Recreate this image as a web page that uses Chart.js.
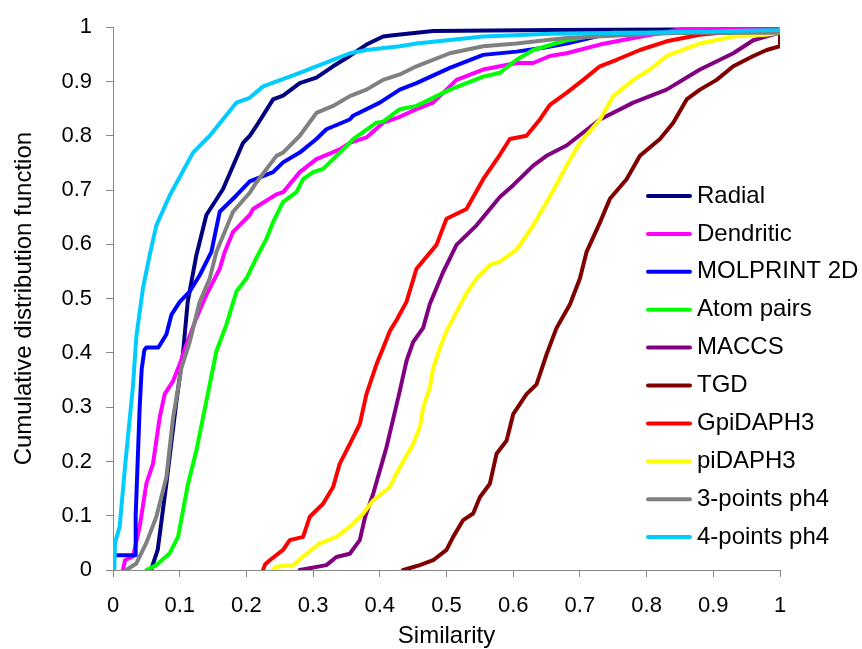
<!DOCTYPE html>
<html>
<head>
<meta charset="utf-8">
<script src="https://cdn.jsdelivr.net/npm/chart.js@4.4.0/dist/chart.umd.min.js"></script>
<style>
  html, body { margin: 0; padding: 0; background: #ffffff; }
  #wrap { width: 862px; height: 649px; }
</style>
</head>
<body>
<div id="wrap"><canvas id="c" width="862" height="649"></canvas></div>
<script>
// ---- Data (x = similarity, y = cumulative distribution) ----
const seriesNames = ["Radial", "Dendritic", "MOLPRINT 2D", "Atom pairs", "MACCS", "TGD", "GpiDAPH3", "piDAPH3", "3-points ph4", "4-points ph4"];
const seriesColors = ["#000080", "#FF00FF", "#0000FF", "#00FF00", "#800080", "#800000", "#FF0000", "#FFFF00", "#808080", "#00CCFF"];

const radial = [[0.057,0],[0.067,0.037],[0.08,0.159],[0.095,0.31],[0.105,0.40],[0.112,0.494],[0.125,0.58],[0.14,0.654],[0.165,0.702],[0.195,0.787],[0.205,0.80],[0.215,0.818],[0.24,0.867],[0.255,0.874],[0.28,0.897],[0.305,0.907],[0.33,0.928],[0.355,0.947],[0.38,0.968],[0.405,0.983],[0.42,0.985],[0.48,0.993],[0.655,0.995],[1,0.997]];
const dendritic = [[0.015,0],[0.018,0.018],[0.03,0.025],[0.04,0.08],[0.05,0.159],[0.06,0.196],[0.07,0.281],[0.0775,0.324],[0.09,0.348],[0.10,0.379],[0.11,0.415],[0.125,0.464],[0.14,0.507],[0.16,0.555],[0.1675,0.586],[0.18,0.623],[0.205,0.654],[0.21,0.665],[0.245,0.692],[0.255,0.696],[0.28,0.733],[0.305,0.757],[0.34,0.775],[0.355,0.787],[0.38,0.797],[0.405,0.824],[0.43,0.835],[0.455,0.849],[0.48,0.861],[0.515,0.903],[0.555,0.922],[0.605,0.934],[0.63,0.934],[0.655,0.947],[0.68,0.952],[0.73,0.968],[0.78,0.980],[0.86,0.998],[0.91,1.0],[1,1.0]];
const molprint = [[0,0.027],[0.033,0.027],[0.034,0.10],[0.037,0.20],[0.040,0.30],[0.043,0.37],[0.047,0.405],[0.05,0.41],[0.068,0.41],[0.08,0.434],[0.0875,0.47],[0.1,0.494],[0.115,0.513],[0.13,0.543],[0.1475,0.586],[0.16,0.66],[0.185,0.69],[0.205,0.716],[0.24,0.733],[0.255,0.751],[0.28,0.769],[0.305,0.794],[0.32,0.812],[0.355,0.830],[0.36,0.837],[0.40,0.861],[0.43,0.885],[0.455,0.897],[0.505,0.925],[0.555,0.949],[0.605,0.955],[0.645,0.962],[0.68,0.97],[0.75,0.99],[1,0.99]];
const atomPairs = [[0.05,0],[0.065,0.009],[0.085,0.031],[0.0975,0.061],[0.105,0.11],[0.1125,0.159],[0.125,0.22],[0.135,0.281],[0.145,0.342],[0.155,0.403],[0.17,0.452],[0.185,0.513],[0.20,0.537],[0.215,0.575],[0.23,0.61],[0.24,0.641],[0.255,0.678],[0.275,0.696],[0.285,0.72],[0.30,0.733],[0.315,0.739],[0.33,0.757],[0.355,0.787],[0.36,0.794],[0.395,0.824],[0.405,0.826],[0.43,0.849],[0.455,0.855],[0.505,0.885],[0.555,0.909],[0.58,0.916],[0.605,0.94],[0.63,0.958],[0.68,0.976],[0.75,0.99],[1,0.99]];
const maccs = [[0.28,0],[0.32,0.009],[0.335,0.024],[0.355,0.03],[0.37,0.055],[0.378,0.098],[0.39,0.14],[0.40,0.183],[0.41,0.226],[0.42,0.278],[0.43,0.33],[0.44,0.385],[0.45,0.42],[0.465,0.446],[0.475,0.49],[0.495,0.549],[0.515,0.599],[0.545,0.635],[0.58,0.687],[0.60,0.709],[0.63,0.745],[0.65,0.763],[0.68,0.782],[0.73,0.83],[0.78,0.861],[0.83,0.885],[0.88,0.922],[0.93,0.952],[0.96,0.976],[0.98,0.983],[1,0.99]];
const tgd = [[0.435,0],[0.46,0.009],[0.48,0.018],[0.50,0.037],[0.51,0.061],[0.525,0.092],[0.54,0.104],[0.55,0.134],[0.565,0.159],[0.575,0.214],[0.59,0.238],[0.60,0.287],[0.62,0.324],[0.635,0.342],[0.65,0.397],[0.665,0.446],[0.685,0.489],[0.70,0.537],[0.71,0.586],[0.73,0.64],[0.745,0.684],[0.77,0.72],[0.79,0.763],[0.82,0.794],[0.84,0.824],[0.86,0.867],[0.88,0.885],[0.905,0.903],[0.93,0.928],[0.96,0.947],[0.98,0.958],[1,0.965],[1,0.99]];
const gpidaph3 = [[0.225,0],[0.228,0.01],[0.235,0.018],[0.255,0.037],[0.265,0.055],[0.285,0.061],[0.295,0.098],[0.315,0.122],[0.33,0.153],[0.34,0.196],[0.355,0.232],[0.37,0.269],[0.38,0.324],[0.395,0.379],[0.405,0.409],[0.415,0.44],[0.425,0.46],[0.44,0.494],[0.455,0.555],[0.485,0.599],[0.50,0.647],[0.53,0.665],[0.555,0.72],[0.58,0.765],[0.595,0.794],[0.62,0.80],[0.64,0.83],[0.655,0.857],[0.68,0.879],[0.705,0.903],[0.73,0.928],[0.755,0.94],[0.79,0.958],[0.83,0.974],[0.88,0.986],[0.93,0.992],[1,0.995]];
const pidaph3 = [[0.24,0],[0.245,0.006],[0.27,0.009],[0.29,0.03],[0.31,0.049],[0.335,0.061],[0.355,0.08],[0.375,0.104],[0.39,0.128],[0.415,0.153],[0.425,0.178],[0.435,0.20],[0.45,0.232],[0.46,0.263],[0.465,0.299],[0.475,0.336],[0.48,0.372],[0.49,0.409],[0.50,0.44],[0.515,0.475],[0.53,0.51],[0.545,0.537],[0.565,0.562],[0.58,0.568],[0.605,0.59],[0.63,0.635],[0.655,0.688],[0.68,0.745],[0.70,0.787],[0.73,0.83],[0.75,0.873],[0.78,0.903],[0.805,0.922],[0.83,0.947],[0.88,0.97],[0.93,0.983],[0.98,0.986],[1,0.99]];
const points3 = [[0.02,0],[0.035,0.012],[0.05,0.05],[0.065,0.098],[0.08,0.171],[0.09,0.28],[0.1025,0.372],[0.115,0.42],[0.13,0.494],[0.145,0.537],[0.155,0.586],[0.18,0.66],[0.205,0.695],[0.215,0.714],[0.245,0.763],[0.255,0.769],[0.28,0.80],[0.305,0.842],[0.33,0.855],[0.355,0.873],[0.38,0.885],[0.405,0.903],[0.43,0.913],[0.455,0.928],[0.505,0.952],[0.555,0.965],[0.605,0.97],[0.655,0.977],[0.68,0.98],[0.78,0.986],[0.85,0.99],[1,0.99]];
const points4 = [[0.002,0],[0.003,0.05],[0.01,0.08],[0.018,0.19],[0.03,0.34],[0.035,0.43],[0.045,0.52],[0.055,0.58],[0.065,0.635],[0.085,0.69],[0.12,0.769],[0.145,0.80],[0.185,0.861],[0.205,0.87],[0.225,0.891],[0.28,0.916],[0.33,0.94],[0.355,0.952],[0.38,0.958],[0.43,0.965],[0.455,0.97],[0.555,0.983],[0.655,0.988],[0.8,0.99],[1,0.995],[1,1.0]];

const seriesData = [radial, dendritic, molprint, atomPairs, maccs, tgd, gpidaph3, pidaph3, points3, points4];

const xTickLabels = ["0","0.1","0.2","0.3","0.4","0.5","0.6","0.7","0.8","0.9","1"];
const yTickLabels = ["0","0.1","0.2","0.3","0.4","0.5","0.6","0.7","0.8","0.9","1"];
const xTitle = "Similarity";
const yTitle = "Cumulative distribution function";

// ---- Chart ----
const FONT = "'Liberation Sans', Arial, sans-serif";
const AXIS_GRAY = "#888888";

const datasets = seriesData.map((arr, i) => ({
  label: seriesNames[i],
  data: arr.map(p => ({ x: p[0], y: p[1] })),
  borderColor: seriesColors[i],
  backgroundColor: seriesColors[i],
  borderWidth: 4,
  pointRadius: 0,
  tension: 0,
  fill: false,
  borderJoinStyle: 'round',
  borderCapStyle: 'round',
  order: seriesData.length - i
}));

const legendPlugin = {
  id: 'customLegend',
  afterDraw(chart) {
    const ctx = chart.ctx;
    ctx.save();
    const x0 = 648, x1 = 690, tx = 697, y0 = 196, dy = 37.9;
    ctx.font = "24px " + FONT;
    ctx.textBaseline = 'middle';
    ctx.textAlign = 'left';
    chart.data.datasets.forEach((ds, i) => {
      const y = y0 + i * dy;
      ctx.strokeStyle = ds.borderColor;
      ctx.lineWidth = 4;
      ctx.lineCap = 'round';
      ctx.beginPath();
      ctx.moveTo(x0, y);
      ctx.lineTo(x1, y);
      ctx.stroke();
      ctx.fillStyle = '#000000';
      ctx.fillText(ds.label, tx, y);
    });
    ctx.restore();
  }
};

new Chart(document.getElementById('c'), {
  type: 'line',
  data: { datasets },
  options: {
    responsive: false,
    animation: false,
    devicePixelRatio: 1,
    layout: { padding: { top: 24, right: 82, left: 0, bottom: 0 } },
    plugins: {
      legend: { display: false },
      tooltip: { enabled: false }
    },
    scales: {
      x: {
        type: 'linear',
        min: 0, max: 1,
        afterFit(scale) { scale.height = 79; },
        grid: { display: true, drawOnChartArea: false, drawTicks: true, tickLength: 7, color: AXIS_GRAY, lineWidth: 1 },
        border: { display: true, color: AXIS_GRAY, width: 1 },
        ticks: {
          stepSize: 0.1,
          autoSkip: false,
          maxRotation: 0,
          padding: 16,
          color: '#000000',
          font: { family: FONT, size: 22 },
          callback: (v) => xTickLabels[Math.round(v * 10)]
        },
        title: {
          display: true, text: xTitle, color: '#000000',
          font: { family: FONT, size: 24, lineHeight: 1.0 },
          padding: { top: 0, bottom: 1 }
        }
      },
      y: {
        type: 'linear',
        min: 0, max: 1,
        afterFit(scale) { scale.width = 113; },
        grid: { display: true, drawOnChartArea: false, drawTicks: true, tickLength: 7, color: AXIS_GRAY, lineWidth: 1 },
        border: { display: true, color: AXIS_GRAY, width: 1 },
        ticks: {
          stepSize: 0.1,
          autoSkip: false,
          padding: 14,
          color: '#000000',
          font: { family: FONT, size: 22 },
          callback: (v) => yTickLabels[Math.round(v * 10)]
        },
        title: {
          display: true, text: yTitle, color: '#000000',
          font: { family: FONT, size: 24 },
          padding: { top: 10, bottom: 0 }
        }
      }
    }
  },
  plugins: [legendPlugin]
});
</script>
</body>
</html>
